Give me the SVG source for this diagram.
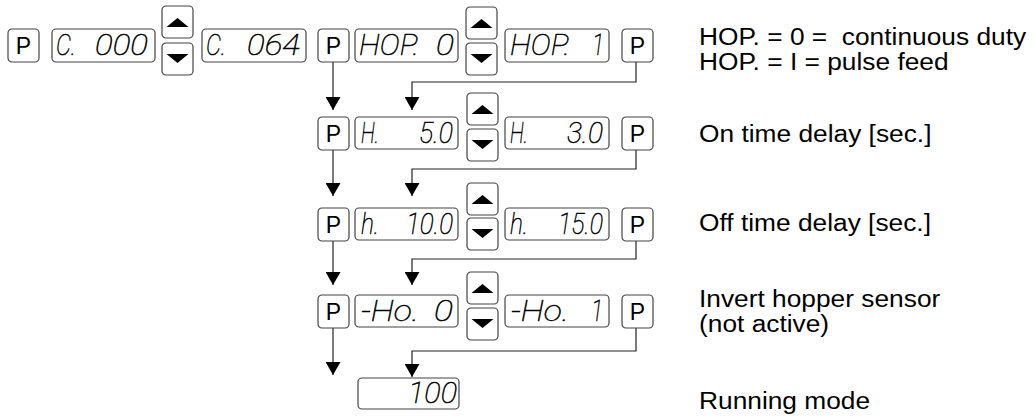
<svg xmlns="http://www.w3.org/2000/svg" width="1035" height="419" viewBox="0 0 1035 419">
<style>
.box{fill:#fff;stroke:#444;stroke-width:1.2}
.ptxt{font-family:"Liberation Sans",Arial,sans-serif;font-size:23px;fill:#000;text-anchor:middle}
.seg{font-family:Roboto,"DejaVu Sans",sans-serif;font-weight:100;font-style:italic;font-size:29px;fill:#000;stroke:#000;stroke-width:0.5}
.lbl{font-family:"Liberation Sans",Arial,sans-serif;font-size:23.5px;fill:#000}
.con{fill:none;stroke:#222;stroke-width:1.2}
</style>
<defs>
<marker id="ah" markerUnits="userSpaceOnUse" markerWidth="14" markerHeight="15" refX="13" refY="7.5" orient="auto">
<path d="M0,0 L13,7.5 L0,15 z" fill="#000"/>
</marker>
<g id="up"><rect class="box" x="0" y="0" width="31" height="32" rx="4"/><path d="M4.5,21 L15.5,12 L26.5,21 z" fill="#000"/></g>
<g id="dn"><rect class="box" x="0" y="0" width="31" height="32" rx="4"/><path d="M4.5,11 L15.5,20 L26.5,11 z" fill="#000"/></g>
<g id="pk"><rect class="box" x="0" y="0" width="31" height="33" rx="4"/><text class="ptxt" x="15.5" y="25">P</text></g>
</defs>

<g id="connectors">
<path class="con" d="M333,62 V110" marker-end="url(#ah)"/>
<path class="con" d="M333,149 V196" marker-end="url(#ah)"/>
<path class="con" d="M333,240 V285" marker-end="url(#ah)"/>
<path class="con" d="M333,327 V375" marker-end="url(#ah)"/>
<path class="con" d="M636,62 V82 H412 V110" marker-end="url(#ah)"/>
<path class="con" d="M636,149 V169 H412 V196" marker-end="url(#ah)"/>
<path class="con" d="M636,240 V259 H412 V285" marker-end="url(#ah)"/>
<path class="con" d="M636,327 V351 H412 V377" marker-end="url(#ah)"/>
</g>

<g id="row1">
<g id="p0"><use href="#pk" x="8" y="29"/></g>
<g id="d1"><rect class="box" x="52" y="29" width="103" height="33" rx="4"/><text class="seg" x="56" y="55" textLength="20" lengthAdjust="spacingAndGlyphs">C.</text><text class="seg" x="95" y="55" textLength="53" lengthAdjust="spacingAndGlyphs">000</text></g>
<g id="b1"><use href="#up" x="162" y="6"/><use href="#dn" x="162" y="43"/></g>
<g id="d2"><rect class="box" x="202" y="29" width="104" height="33" rx="4"/><text class="seg" x="206" y="55" textLength="20" lengthAdjust="spacingAndGlyphs">C.</text><text class="seg" x="247" y="55" textLength="53" lengthAdjust="spacingAndGlyphs">064</text></g>
<g id="p1"><use href="#pk" x="318" y="29"/></g>
<g id="d3"><rect class="box" x="355" y="29" width="103" height="33" rx="4"/><text class="seg" x="359" y="55" textLength="60" lengthAdjust="spacingAndGlyphs">HOP.</text><text class="seg" x="436" y="55" textLength="18" lengthAdjust="spacingAndGlyphs">0</text></g>
<g id="b2"><use href="#up" x="466" y="7"/><use href="#dn" x="466" y="43"/></g>
<g id="d4"><rect class="box" x="505" y="29" width="104" height="33" rx="4"/><text class="seg" x="510" y="55" textLength="60" lengthAdjust="spacingAndGlyphs">HOP.</text><text class="seg" x="592" y="55" textLength="12" lengthAdjust="spacingAndGlyphs">1</text></g>
<g id="p2"><use href="#pk" x="622" y="29"/></g>
</g>

<g id="row2">
<g id="p3"><use href="#pk" x="318" y="117"/></g>
<g id="d5"><rect class="box" x="355" y="117" width="103" height="32" rx="4"/><text class="seg" x="361" y="143" textLength="18" lengthAdjust="spacingAndGlyphs">H.</text><text class="seg" x="419" y="143" textLength="34" lengthAdjust="spacingAndGlyphs">5.0</text></g>
<g id="b3"><use href="#up" x="467" y="93"/><use href="#dn" x="467" y="129"/></g>
<g id="d6"><rect class="box" x="505" y="117" width="104" height="32" rx="4"/><text class="seg" x="510" y="143" textLength="18" lengthAdjust="spacingAndGlyphs">H.</text><text class="seg" x="567" y="143" textLength="36" lengthAdjust="spacingAndGlyphs">3.0</text></g>
<g id="p4"><use href="#pk" x="622" y="117"/></g>
</g>

<g id="row3">
<g id="p5"><use href="#pk" x="318" y="208"/></g>
<g id="d7"><rect class="box" x="355" y="208" width="103" height="32" rx="4"/><text class="seg" x="361" y="234" textLength="18" lengthAdjust="spacingAndGlyphs">h.</text><text class="seg" x="406" y="234" textLength="47" lengthAdjust="spacingAndGlyphs">10.0</text></g>
<g id="b4"><use href="#up" x="467" y="183"/><use href="#dn" x="467" y="218"/></g>
<g id="d8"><rect class="box" x="505" y="208" width="104" height="32" rx="4"/><text class="seg" x="510" y="234" textLength="18" lengthAdjust="spacingAndGlyphs">h.</text><text class="seg" x="558" y="234" textLength="45" lengthAdjust="spacingAndGlyphs">15.0</text></g>
<g id="p6"><use href="#pk" x="622" y="208"/></g>
</g>

<g id="row4">
<g id="p7"><use href="#pk" x="318" y="295"/></g>
<g id="d9"><rect class="box" x="355" y="295" width="103" height="32" rx="4"/><text class="seg" x="361" y="321" textLength="58" lengthAdjust="spacingAndGlyphs">-Ho.</text><text class="seg" x="434" y="321" textLength="19" lengthAdjust="spacingAndGlyphs">0</text></g>
<g id="b5"><use href="#up" x="467" y="272"/><use href="#dn" x="467" y="308"/></g>
<g id="d10"><rect class="box" x="505" y="295" width="104" height="32" rx="4"/><text class="seg" x="511" y="321" textLength="58" lengthAdjust="spacingAndGlyphs">-Ho.</text><text class="seg" x="591" y="321" textLength="12" lengthAdjust="spacingAndGlyphs">1</text></g>
<g id="p8"><use href="#pk" x="622" y="295"/></g>
</g>

<g id="run">
<rect class="box" x="358" y="378" width="101" height="31" rx="4"/><text class="seg" x="408" y="403" textLength="49" lengthAdjust="spacingAndGlyphs">100</text>
</g>

<g id="labels" transform="translate(699 0) scale(1.12 1)">
<text class="lbl" x="0" y="45" xml:space="preserve">HOP. = 0 =  continuous duty</text>
<text class="lbl" x="0" y="70">HOP. = I = pulse feed</text>
<text class="lbl" x="0" y="142">On time delay [sec.]</text>
<text class="lbl" x="0" y="231">Off time delay [sec.]</text>
<text class="lbl" x="0" y="307">Invert hopper sensor</text>
<text class="lbl" x="0" y="332">(not active)</text>
<text class="lbl" x="0" y="409">Running mode</text>
</g>
</svg>
